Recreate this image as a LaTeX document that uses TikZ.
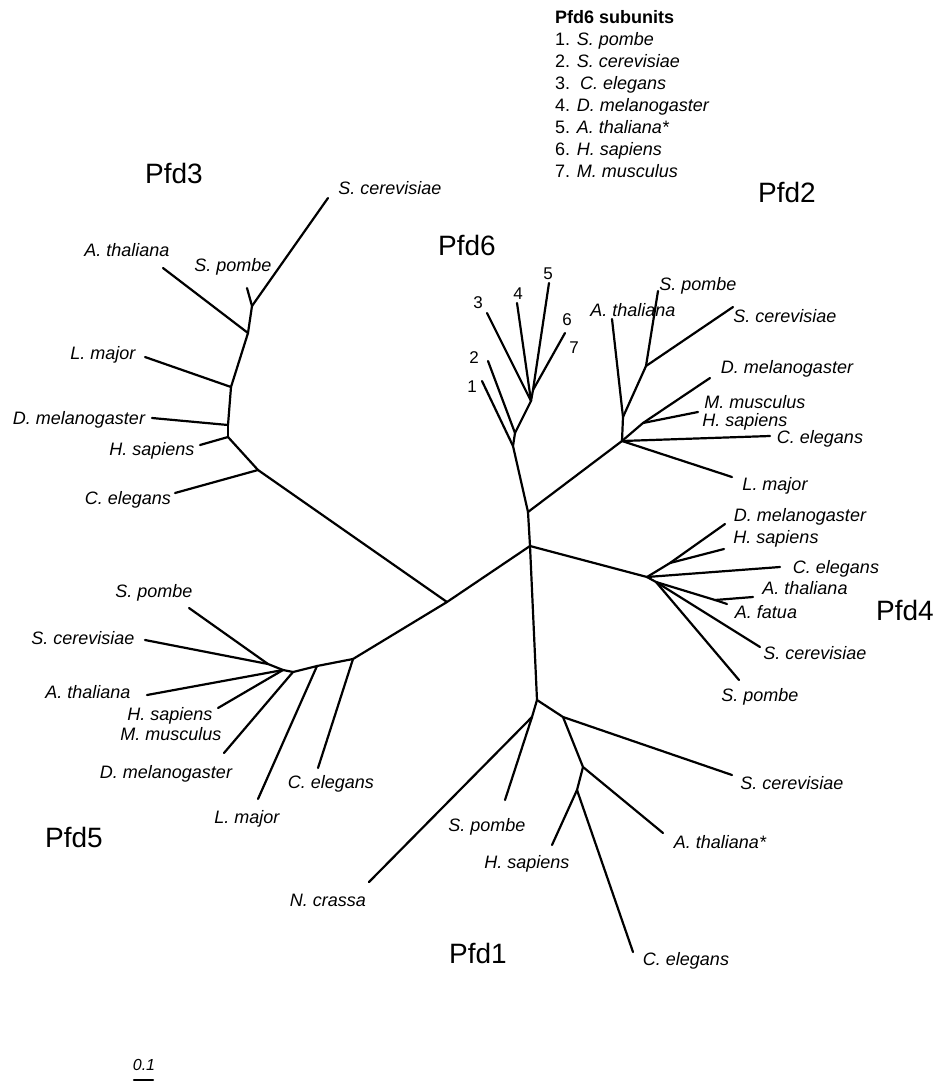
\documentclass[tikz,border=0pt]{standalone}
\usepackage{fontspec}
\setmainfont{Liberation Sans}
\usetikzlibrary{positioning}

\begin{document}
\begin{tikzpicture} [%
    x = 1pt,
    y = -1pt,
    every edge/.style = {%
      draw,
      line width = 2.2pt,
      line cap = round },
    species/.style = {%
      font = \fontsize{18}{21}\selectfont\itshape,
      inner sep = 0pt,
      text height = 13pt,
      text depth = 0pt },
    subunit/.style = {%
      font = \fontsize{28}{32}\selectfont,
      inner sep = 0pt,
      text height = 20pt,
      text depth = 0pt },
    number/.style = {%
      font = \fontsize{17}{20}\selectfont,
      inner sep = 0pt,
      text height = 12pt,
      text depth = 0pt }
  ]

  \useasboundingbox (0,0) rectangle (938,1082);

  % inner nodes
  \coordinate (c)   at (530,546);
  \coordinate (p26) at (528,512);
  \coordinate (p35) at (447,602);

  \coordinate (t3a) at (258,470);
  \coordinate (t3b) at (228,437);
  \coordinate (t3c) at (228,425);
  \coordinate (t3d) at (231,387);
  \coordinate (t3e) at (248,333);
  \coordinate (t3f) at (252,306);

  \coordinate (t5a) at (353,659);
  \coordinate (t5b) at (317,666);
  \coordinate (t5c) at (293,672);
  \coordinate (t5d) at (283,670);
  \coordinate (t5e) at (268,664);

  \coordinate (t6a) at (513,446);
  \coordinate (t6b) at (515,433);
  \coordinate (t6c) at (531,401);
  \coordinate (t6d) at (533,390);

  \coordinate (t2a) at (622,441);
  \coordinate (t2b) at (623,417);
  \coordinate (t2c) at (646,366);
  \coordinate (t2d) at (643,423);

  \coordinate (t4a) at (647,577);
  \coordinate (t4b) at (670,563);
  \coordinate (t4c) at (656,582);
  \coordinate (t4d) at (715,600);

  \coordinate (t1a) at (537,700);
  \coordinate (t1b) at (532,717);
  \coordinate (t1c) at (563,717);
  \coordinate (t1d) at (583,767);
  \coordinate (t1e) at (577,790);

  % leaves
  \coordinate (cer3) at (328,198);
  \coordinate (pom3) at (247,288);
  \coordinate (ath3) at (163,268);
  \coordinate (lma3) at (145,357);
  \coordinate (dme3) at (152,418);
  \coordinate (hsa3) at (200,445);
  \coordinate (cel3) at (175,493);

  \coordinate (pom5) at (189,608);
  \coordinate (cer5) at (145,640);
  \coordinate (ath5) at (147,695);
  \coordinate (hsa5) at (218,708);
  \coordinate (dme5) at (224,753);
  \coordinate (lma5) at (258,799);
  \coordinate (cel5) at (318,768);

  \coordinate (s1)  at (482,381);
  \coordinate (s2)  at (488,361);
  \coordinate (s3)  at (487,313);
  \coordinate (s4)  at (517,303);
  \coordinate (s5)  at (549,283);
  \coordinate (s67) at (565,333);

  \coordinate (ath2) at (612,319);
  \coordinate (pom2) at (658,291);
  \coordinate (cer2) at (733,307);
  \coordinate (dme2) at (710,378);
  \coordinate (mhs2) at (698,412);
  \coordinate (cel2) at (770,436);
  \coordinate (lma2) at (732,477);

  \coordinate (dme4) at (725,524);
  \coordinate (hsa4) at (724,549);
  \coordinate (cel4) at (780,567);
  \coordinate (ath4) at (753,597);
  \coordinate (fat4) at (727,604);
  \coordinate (cer4) at (760,647);
  \coordinate (pom4) at (739,680);

  \coordinate (ncr1) at (369,882);
  \coordinate (pom1) at (505,800);
  \coordinate (cer1) at (732,775);
  \coordinate (ath1) at (663,833);
  \coordinate (hsa1) at (552,845);
  \coordinate (cel1) at (633,952);

  % branches
  \path
  (c) edge (p26)
  edge (p35)
  edge (t4a)
  edge (t1a)

  (p35) edge (t3a)
  edge (t5a)

  (t3a) edge (t3b)
  edge (cel3)
  (t3b) edge (t3c)
  edge (hsa3)
  (t3c) edge (t3d)
  edge (dme3)
  (t3d) edge (t3e)
  edge (lma3)
  (t3e) edge (t3f)
  edge (ath3)
  (t3f) edge (cer3)
  edge (pom3)

  (t5a) edge (t5b)
  edge (cel5)
  (t5b) edge (t5c)
  edge (lma5)
  (t5c) edge (t5d)
  edge (dme5)
  (t5d) edge (t5e)
  edge (hsa5)
  edge (ath5)
  (t5e) edge (cer5)
  edge (pom5)

  (p26) edge (t6a)
  edge (t2a)

  (t6a) edge (t6b)
  edge (s1)
  (t6b) edge (t6c)
  edge (s2)
  (t6c) edge (t6d)
  edge (s3)
  edge (s4)
  (t6d) edge (s5)
  edge (s67)

  (t2a) edge (t2b)
  edge (t2d)
  edge (cel2)
  edge (lma2)
  (t2b) edge (t2c)
  edge (ath2)
  (t2c) edge (pom2)
  edge (cer2)
  (t2d) edge (dme2)
  edge (mhs2)

  (t4a) edge (t4b)
  edge (cel4)
  edge (t4c)
  (t4b) edge (dme4)
  edge (hsa4)
  (t4c) edge (t4d)
  edge (cer4)
  edge (pom4)
  (t4d) edge (ath4)
  edge (fat4)

  (t1a) edge (t1b)
  edge (t1c)
  (t1b) edge (ncr1)
  edge (pom1)
  (t1c) edge (cer1)
  edge (t1d)
  (t1d) edge (ath1)
  edge (t1e)
  (t1e) edge (hsa1)
  edge (cel1);

  % subunit names
  \node[subunit] (Pfd1) at (478,953) {Pfd1};
  \node[subunit] (Pfd2) at (787,192) {Pfd2};
  \node[subunit] (Pfd3) at (174,173) {Pfd3};
  \node[subunit] (Pfd4) at (905,610) {Pfd4};
  \node[subunit] (Pfd5) at (74,837)  {Pfd5};
  \node[subunit] (Pfd6) at (467,245) {Pfd6};

  % Pfd3 labels
  \node[species] (Lcer3) at (390,188) {S. cerevisiae};
  \node[species] (Lath3) at (127,250) {A. thaliana};
  \node[species] (Lpom3) at (233,265) {S. pombe};
  \node[species] (Llma3) at (103,353) {L. major};
  \node[species] (Ldme3) at (79,418)  {D. melanogaster};
  \node[species] (Lhsa3) at (152,449) {H. sapiens};
  \node[species] (Lcel3) at (128,498) {C. elegans};

  % Pfd6 labels
  \node[number] (L1) at (472,386) {1};
  \node[number] (L2) at (474,357) {2};
  \node[number] (L3) at (478,302) {3};
  \node[number] (L4) at (518,293) {4};
  \node[number] (L5) at (548,273) {5};
  \node[number] (L6) at (567,319) {6};
  \node[number] (L7) at (574,347) {7};

  % Pfd2 labels
  \node[species] (Lath2) at (633,310) {A. thaliana};
  \node[species] (Lpom2) at (698,284) {S. pombe};
  \node[species] (Lcer2) at (785,316) {S. cerevisiae};
  \node[species] (Ldme2) at (787,367) {D. melanogaster};
  \node[species] (Lmmu2) at (755,402) {M. musculus};
  \node[species] (Lhsa2) at (745,420) {H. sapiens};
  \node[species] (Lcel2) at (820,437) {C. elegans};
  \node[species] (Llma2) at (775,484) {L. major};

  % Pfd4 labels
  \node[species] (Ldme4) at (800,515) {D. melanogaster};
  \node[species] (Lhsa4) at (776,537) {H. sapiens};
  \node[species] (Lcel4) at (836,567) {C. elegans};
  \node[species] (Lath4) at (805,588) {A. thaliana};
  \node[species] (Lfat4) at (766,612) {A. fatua};
  \node[species] (Lcer4) at (815,653) {S. cerevisiae};
  \node[species] (Lpom4) at (760,695) {S. pombe};

  % Pfd5 labels
  \node[species] (Lpom5) at (154,591) {S. pombe};
  \node[species] (Lcer5) at (83,638)  {S. cerevisiae};
  \node[species] (Lath5) at (88,692)  {A. thaliana};
  \node[species] (Lhsa5) at (170,714) {H. sapiens};
  \node[species] (Lmmu5) at (171,734) {M. musculus};
  \node[species] (Ldme5) at (166,772) {D. melanogaster};
  \node[species] (Lcel5) at (331,782) {C. elegans};
  \node[species] (Llma5) at (247,817) {L. major};

  % Pfd1 labels
  \node[species] (Lcer1) at (792,783) {S. cerevisiae};
  \node[species] (Lpom1) at (487,825) {S. pombe};
  \node[species] (Lath1) at (720,842) {A. thaliana*};
  \node[species] (Lhsa1) at (527,862) {H. sapiens};
  \node[species] (Lncr1) at (328,900) {N. crassa};
  \node[species] (Lcel1) at (686,959) {C. elegans};

  % legend
  \node[anchor = north west, align = left, inner sep = 0pt,
        font = \fontsize{18}{22}\selectfont] (legend) at (555,10)
       {\textbf{Pfd6 subunits}\\
        1. \textit{S. pombe}\\
        2. \textit{S. cerevisiae}\\
        3.~~\textit{C. elegans}\\
        4. \textit{D. melanogaster}\\
        5. \textit{A. thaliana*}\\
        6. \textit{H. sapiens}\\
        7. \textit{M. musculus}};

  % scale bar
  \coordinate (sb1) at (134,1080);
  \coordinate (sb2) at (153,1080);
  \path (sb1) edge (sb2);
  \node[species, font = \fontsize{16}{19}\selectfont\itshape] (scale) at (144,1064) {0.1};

\end{tikzpicture}
\end{document}
